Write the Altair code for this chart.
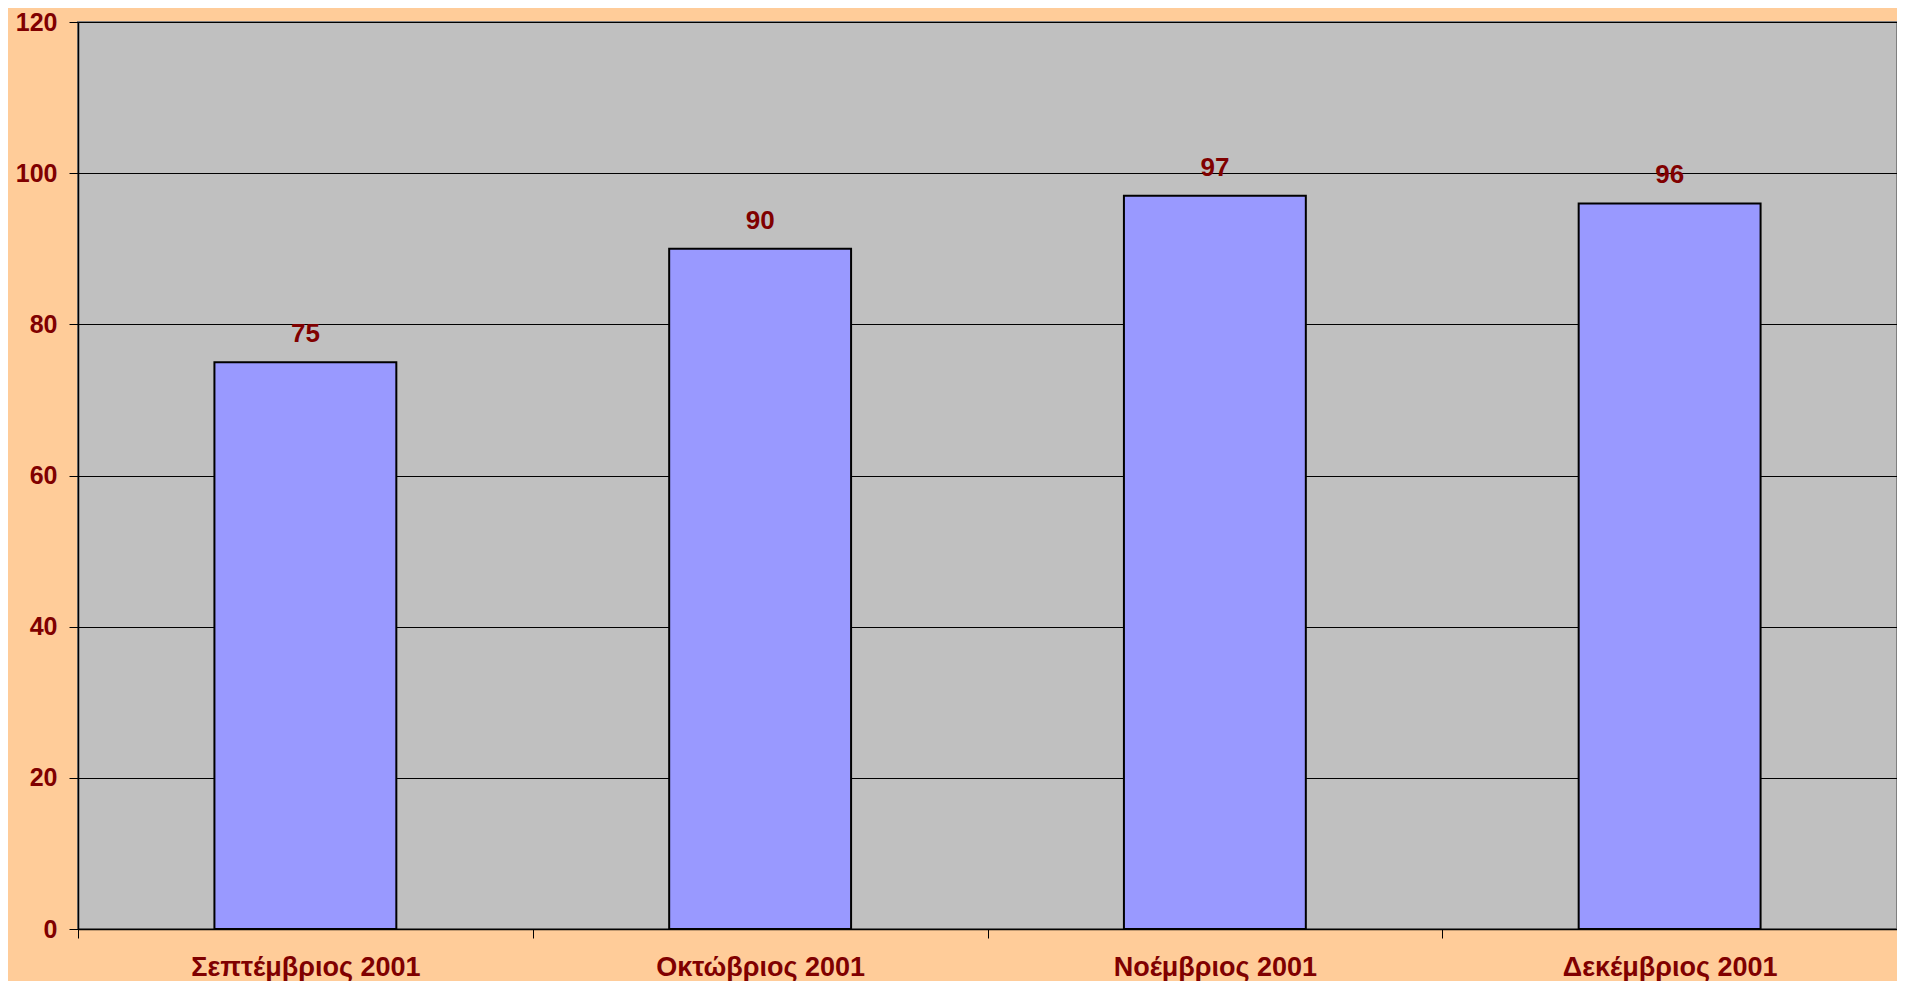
import altair as alt
import pandas as pd

months = ["Σεπτέμβριος 2001", "Οκτώβριος 2001", "Νοέμβριος 2001", "Δεκέμβριος 2001"]
values = [75, 90, 97, 96]

df = pd.DataFrame({"month": months, "value": values})

FONT = "Liberation Sans"
RED = "#800000"

x = alt.X(
    "month:N",
    sort=months,
    title=None,
    scale=alt.Scale(paddingInner=0, paddingOuter=0),
    axis=alt.Axis(
        labelAngle=0,
        tickBand="extent",
        labelFont=FONT,
        labelFontSize=27,
        labelFontWeight="bold",
        labelColor=RED,
        labelPadding=16,
        labelLimit=0,
        tickColor="black",
        tickSize=9,
        domainColor="black",
        domainWidth=1.5,
        grid=False,
    ),
)
y = alt.Y(
    "value:Q",
    title=None,
    scale=alt.Scale(domain=[0, 120]),
    axis=alt.Axis(
        values=[0, 20, 40, 60, 80, 100, 120],
        labelFont=FONT,
        labelFontSize=25,
        labelFontWeight="bold",
        labelColor=RED,
        labelPadding=12,
        tickColor="black",
        tickSize=9,
        domainColor="black",
        domainWidth=1.5,
        grid=True,
        gridColor="black",
        gridWidth=1,
        gridOpacity=1,
    ),
)

bars = alt.Chart(df).mark_bar(
    color="#9999FF", stroke="black", strokeWidth=2,
    width=alt.RelativeBandSize(0.4),
).encode(x=x, y=y)

labels = alt.Chart(df).mark_text(
    font=FONT, fontSize=26, fontWeight="bold", color=RED,
    baseline="alphabetic", dy=-20
).encode(x=alt.X("month:N", sort=months), y="value:Q", text="value:Q")

chart = (bars + labels).properties(
    width=1819,
    height=907,
    autosize="none",
    padding={"left": 70, "top": 14, "right": 0, "bottom": 52},
    background="#FFCC99",
).configure_view(
    fill="#C0C0C0", stroke="#808080", strokeWidth=2
)

chart.save("out.html", embed_options={"renderer": "svg", "actions": False})
